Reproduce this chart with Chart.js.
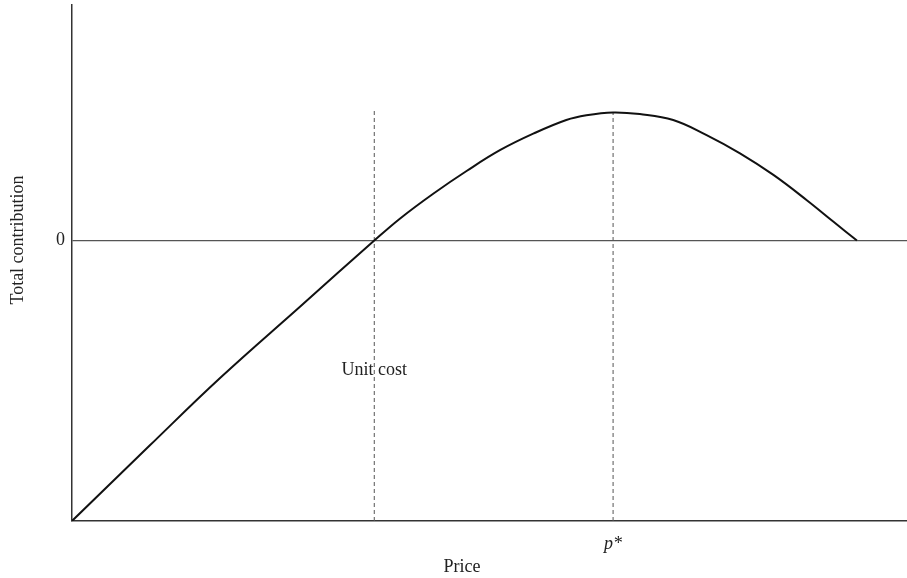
<!DOCTYPE html>
<html>
<head>
<meta charset="utf-8">
<script src="https://cdn.jsdelivr.net/npm/chart.js@4"></script>
<style>
  body { margin: 0; background: #fff; }
  #wrap { width: 907px; height: 578px; }
</style>
</head>
<body>
<div id="wrap"><canvas id="myChart" width="907" height="578"></canvas></div>
<script>
// price on a 0-100 scale, total contribution on a -100..84 scale
var price = [0, 9.3, 17.7, 27.3, 36.2, 39.3, 43.3, 47.3, 51.3, 55.3, 59.2, 61.6, 64.8, 68.0, 72.0, 76.0, 80.0, 84.0, 88.0, 91.2, 94.0];
var contribution = [-100, -73.1, -49.1, -23.6, 0, 7.9, 16.8, 24.9, 32.3, 38.2, 43.0, 44.7, 45.7, 45.1, 43.0, 37.6, 31.1, 23.4, 14.4, 6.7, 0];

var unitCost = 36.2;
var unitCostTop = 46.5;
var pStar = 64.8;
var pStarTop = 45.8;

var yTicks = [0];
var xTickLabels = ["p*"];

var serif = "'Liberation Serif', 'Times New Roman', serif";

var curve = price.map(function (p, i) {
  return { x: p, y: contribution[i] };
});

var labelsPlugin = {
  id: "labels",
  afterDraw: function (chart) {
    var ctx = chart.ctx;
    var xs = chart.scales.x;
    var ys = chart.scales.y;
    ctx.save();
    ctx.fillStyle = "#222";
    ctx.font = "18px " + serif;
    ctx.textAlign = "center";
    ctx.textBaseline = "middle";
    ctx.fillText("Unit cost", xs.getPixelForValue(unitCost), ys.getPixelForValue(-46.3));
    ctx.fillText("Price", 462, 567);
    ctx.translate(18, 240);
    ctx.rotate(-Math.PI / 2);
    ctx.fillText("Total contribution", 0, 0);
    ctx.restore();
  },
};

var chartBox = document.getElementById("myChart");
var chart1 = new Chart(chartBox, {
  type: "scatter",
  data: {
    datasets: [
      {
        data: curve,
        showLine: true,
        borderColor: "#111",
        borderWidth: 2,
        pointRadius: 0,
        tension: 0.4,
      },
      {
        data: [
          { x: unitCost, y: -100 },
          { x: unitCost, y: unitCostTop },
        ],
        showLine: true,
        borderColor: "#555",
        borderWidth: 1,
        borderDash: [4, 3],
        pointRadius: 0,
      },
      {
        data: [
          { x: pStar, y: -100 },
          { x: pStar, y: pStarTop },
        ],
        showLine: true,
        borderColor: "#555",
        borderWidth: 1,
        borderDash: [4, 3],
        pointRadius: 0,
      },
    ],
  },
  options: {
    responsive: false,
    animation: false,
    layout: {
      padding: { top: 5, right: 0, left: 0, bottom: 0 },
    },
    plugins: {
      legend: { display: false },
      tooltip: { enabled: false },
    },
    scales: {
      x: {
        type: "linear",
        min: 0,
        max: 100,
        afterBuildTicks: function (axis) {
          axis.ticks = [{ value: pStar }];
        },
        afterFit: function (axis) {
          axis.height = 57;
          axis.paddingLeft = 0;
          axis.paddingRight = 0;
        },
        ticks: {
          maxRotation: 0,
          padding: 12,
          color: "#222",
          font: { family: serif, size: 18, style: "italic" },
          callback: function () {
            return xTickLabels[0];
          },
        },
        grid: { display: false, drawTicks: false },
        border: { display: true, color: "#333", width: 1.5 },
      },
      y: {
        min: -100,
        max: 84,
        afterBuildTicks: function (axis) {
          axis.ticks = yTicks.map(function (v) {
            return { value: v };
          });
        },
        afterFit: function (axis) {
          axis.width = 72;
          axis.paddingTop = 0;
          axis.paddingBottom = 0;
        },
        ticks: {
          padding: 7,
          color: "#222",
          font: { family: serif, size: 18 },
        },
        grid: { display: true, drawTicks: false, color: "#555", lineWidth: 1.2 },
        border: { display: true, color: "#333", width: 1.5 },
      },
    },
  },
  plugins: [labelsPlugin],
});
</script>
</body>
</html>
